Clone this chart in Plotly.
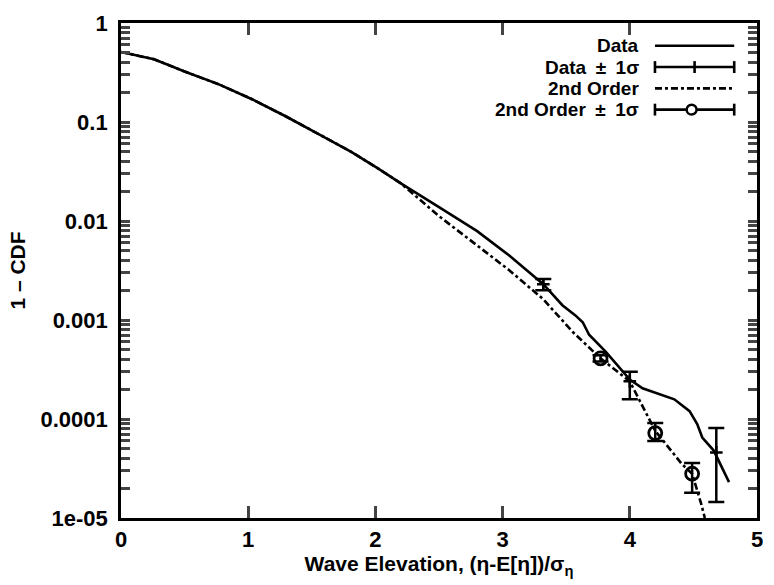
import plotly.graph_objects as go

# ---- data ----
data_x = [0, 0.26, 0.51, 0.77, 1.03, 1.29, 1.55, 1.81, 2.02, 2.20, 2.50, 2.80, 3.05, 3.32,
          3.47, 3.57, 3.63, 3.68, 3.81, 4.00, 4.10, 4.35, 4.47, 4.53, 4.57, 4.66, 4.78]
data_y = [0.51, 0.43, 0.32, 0.24, 0.17, 0.115, 0.076, 0.050, 0.034, 0.024, 0.0138, 0.0079,
          0.0045, 0.0023, 0.00141, 0.00112, 0.00095, 0.00071, 0.00048, 0.00025, 0.000204,
          0.000158, 0.000120, 0.000089, 0.000065, 0.000048, 0.000023]

so_x = [0, 0.26, 0.51, 0.77, 1.03, 1.29, 1.55, 1.81, 2.02, 2.20, 2.50, 2.80, 3.05, 3.32,
        3.55, 3.77, 4.00, 4.08, 4.20, 4.41, 4.49, 4.56, 4.59]
so_y = [0.51, 0.43, 0.32, 0.24, 0.17, 0.115, 0.076, 0.050, 0.034, 0.024, 0.0112, 0.0056,
        0.0032, 0.00162, 0.00076, 0.00041, 0.00024, 0.000151, 7.6e-5, 3.5e-5, 2.8e-5,
        1.41e-5, 1.0e-5]

data_err_x = [3.32, 4.00, 4.68]
data_err_y = [0.0023, 0.00024, 4.6e-5]
data_err_hi = [0.0026, 0.00030, 8.1e-5]
data_err_lo = [0.0020, 0.000158, 1.45e-5]

so_err_x = [3.77, 4.20, 4.49]
so_err_y = [0.00041, 7.2e-5, 2.8e-5]
so_err_hi = [0.00044, 9.1e-5, 3.6e-5]
so_err_lo = [0.00038, 6.0e-5, 1.8e-5]

x_tickvals = [0, 1, 2, 3, 4, 5]
y_tickvals = [1, 0.1, 0.01, 0.001, 0.0001, 0.00001]
y_ticktext = ["1", "0.1", "0.01", "0.001", "0.0001", "1e-05"]
minor_tickvals = [2e-5, 3e-5, 4e-5, 5e-5, 6e-5, 7e-5, 8e-5, 9e-5,
                  2e-4, 3e-4, 4e-4, 5e-4, 6e-4, 7e-4, 8e-4, 9e-4,
                  2e-3, 3e-3, 4e-3, 5e-3, 6e-3, 7e-3, 8e-3, 9e-3,
                  0.02, 0.03, 0.04, 0.05, 0.06, 0.07, 0.08, 0.09,
                  0.2, 0.3, 0.4, 0.5, 0.6, 0.7, 0.8, 0.9]

legend_labels = ["Data", "Data\u2002\u00b1\u20021\u03c3", "2nd Order", "2nd Order\u2002\u00b1\u20021\u03c3"]

FONT = "Liberation Sans, Arial, sans-serif"
LW = 2.6
DASH = "7px,3px,3px,3px"

fig = go.Figure()

fig.add_trace(go.Scatter(x=data_x, y=data_y, mode="lines",
                         line=dict(color="black", width=LW), showlegend=False))
fig.add_trace(go.Scatter(x=so_x, y=so_y, mode="lines",
                         line=dict(color="black", width=LW, dash=DASH), showlegend=False))
fig.add_trace(go.Scatter(
    x=data_err_x, y=data_err_y, mode="markers",
    marker=dict(symbol="cross-thin-open", size=9, color="black",
                line=dict(color="black", width=2.5)),
    error_y=dict(type="data", symmetric=False,
                 array=[h - v for h, v in zip(data_err_hi, data_err_y)],
                 arrayminus=[v - l for v, l in zip(data_err_y, data_err_lo)],
                 color="black", thickness=2.5, width=8),
    showlegend=False))
fig.add_trace(go.Scatter(
    x=so_err_x, y=so_err_y, mode="markers",
    marker=dict(symbol="circle-open", size=13, color="black",
                line=dict(color="black", width=2.8)),
    error_y=dict(type="data", symmetric=False,
                 array=[h - v for h, v in zip(so_err_hi, so_err_y)],
                 arrayminus=[v - l for v, l in zip(so_err_y, so_err_lo)],
                 color="black", thickness=2.5, width=8),
    showlegend=False))

# ---- geometry helpers ----
W, H = 774, 585
ml, mr, mt, mb = 121, 11, 18, 67
pw, ph = W - ml - mr, H - mt - mb


def px2paper(x, y):
    return (x - ml) / pw, 1 - (y - mt) / ph


shapes = []
annotations = []

# custom legend (text right-aligned, sample on the right)
rows_y = [41, 62.5, 84, 105.5]
for i, (lab, ry) in enumerate(zip(legend_labels, rows_y)):
    tx, ty = px2paper(645, ry)
    annotations.append(dict(x=tx, y=ty, xref="paper", yref="paper", text="<b>%s</b>" % lab,
                            showarrow=False, xanchor="right", yanchor="middle", borderpad=0,
                            font=dict(family=FONT, size=19, color="black")))
    x0, yy = px2paper(660, ry)
    x1, _ = px2paper(740, ry)
    line = dict(color="black", width=LW)
    if i == 2:
        line = dict(color="black", width=LW, dash=DASH)
    shapes.append(dict(type="line", xref="paper", yref="paper", x0=x0, x1=x1, y0=yy, y1=yy,
                       line=line))
    if i in (1, 3):
        for cx in (660, 740):
            a, b0 = px2paper(cx, ry - 6)
            _, b1 = px2paper(cx, ry + 6)
            shapes.append(dict(type="line", xref="paper", yref="paper", x0=a, x1=a, y0=b0, y1=b1,
                               line=dict(color="black", width=LW)))
    if i == 1:
        a, b0 = px2paper(700, ry - 6)
        _, b1 = px2paper(700, ry + 6)
        shapes.append(dict(type="line", xref="paper", yref="paper", x0=a, x1=a, y0=b0, y1=b1,
                           line=dict(color="black", width=LW)))
    if i == 3:
        a0, b0 = px2paper(692, ry - 5)
        a1, b1 = px2paper(702, ry + 5)
        shapes.append(dict(type="circle", xref="paper", yref="paper", x0=a0, x1=a1, y0=b1, y1=b0,
                           fillcolor="white", line=dict(color="black", width=2.5)))

fig.update_layout(
    width=W, height=H,
    margin=dict(l=ml, r=mr, t=mt, b=mb),
    paper_bgcolor="white", plot_bgcolor="white",
    font=dict(family=FONT, size=20, color="black"),
    shapes=shapes, annotations=annotations,
    showlegend=False,
)
fig.update_xaxes(range=[0, 5], tickmode="array", tickvals=x_tickvals,
                 ticktext=["<b>%d</b>" % v for v in x_tickvals],
                 ticks="inside", ticklen=12, tickwidth=2.5, ticklabelstandoff=0,
                 showline=True, linewidth=2.8, linecolor="black", mirror="ticks",
                 showgrid=False, zeroline=False,
                 tickfont=dict(family=FONT, size=22, color="black"),
                 title=dict(text="<b>Wave Elevation, (\u03b7-E[\u03b7])/\u03c3<sub>\u03b7</sub></b>",
                            font=dict(family=FONT, size=21, color="black"), standoff=0))
# major decade ticks carry labels; minor ticks listed explicitly with empty labels
all_vals = y_tickvals + minor_tickvals
all_text = ["<b>%s</b>" % t for t in y_ticktext] + [""] * len(minor_tickvals)
fig.update_yaxes(type="log", range=[-5, 0], tickmode="array", tickvals=all_vals,
                 ticktext=all_text,
                 ticks="inside", ticklen=9, tickwidth=2.5, ticklabelstandoff=6,
                 showline=True, linewidth=2.8, linecolor="black", mirror="ticks",
                 showgrid=False, zeroline=False,
                 tickfont=dict(family=FONT, size=22, color="black"),
                 title=dict(text="<b>1 \u2013 CDF</b>",
                            font=dict(family=FONT, size=21, color="black"), standoff=10))

fig.write_html("out.html")
